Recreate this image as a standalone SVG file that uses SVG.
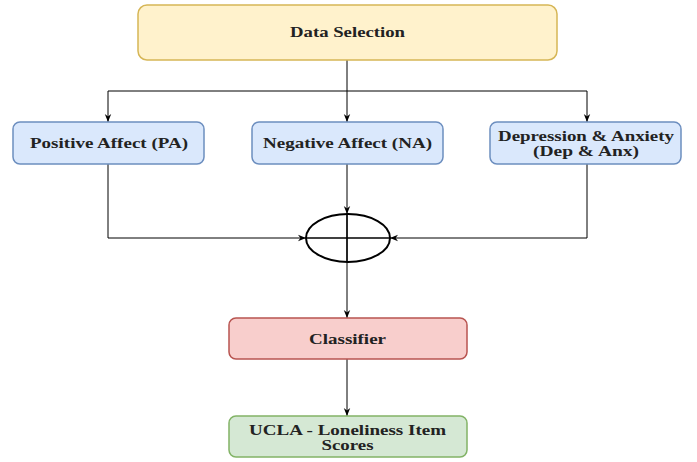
<svg xmlns="http://www.w3.org/2000/svg" width="697" height="462" viewBox="0 0 697 462">
<style>
.box{stroke-width:1.5}
.t{font-family:"Liberation Serif","Times New Roman",serif;font-weight:bold;font-size:14px;fill:#222;text-anchor:middle;dominant-baseline:middle}
.c{fill:none;stroke:#000;stroke-width:1}
</style>
<defs>
<marker id="ah" viewBox="0 0 10 10" refX="10" refY="5" markerWidth="8" markerHeight="8" orient="auto" markerUnits="userSpaceOnUse">
<path d="M0,1 L10,5 L0,9 L3,5 Z" fill="#000"/>
</marker>
</defs>
<rect width="697" height="462" fill="#fff"/>
<g id="sum">
<ellipse cx="348" cy="238" rx="42" ry="24" fill="none" stroke="#000" stroke-width="2"/>
<line x1="306" y1="238" x2="390" y2="238" stroke="#000" stroke-width="1.4"/>
<line x1="347" y1="214" x2="347" y2="262" stroke="#000" stroke-width="1.4"/>
</g>
<g id="connectors">
<path class="c" d="M347,60 V122" marker-end="url(#ah)"/>
<path class="c" d="M347,91 H108 V122" marker-end="url(#ah)"/>
<path class="c" d="M347,91 H587 V122" marker-end="url(#ah)"/>
<path class="c" d="M108,164 V238 H306" marker-end="url(#ah)"/>
<path class="c" d="M587,164 V238 H390" marker-end="url(#ah)"/>
<path class="c" d="M347,164 V214" marker-end="url(#ah)"/>
<path class="c" d="M347,214 V318" marker-end="url(#ah)"/>
<path class="c" d="M347,359 V416" marker-end="url(#ah)"/>
</g>
<g id="data-selection">
<rect class="box" x="138" y="5" width="419" height="55" rx="9" fill="#fff2cc" stroke="#d6b656"/>
<text class="t" x="347.5" y="33.5" textLength="115" lengthAdjust="spacingAndGlyphs">Data Selection</text>
</g>
<g id="positive-affect">
<rect class="box" x="13" y="122" width="191" height="42" rx="7" fill="#dae8fc" stroke="#6c8ebf"/>
<text class="t" x="109" y="145" textLength="158" lengthAdjust="spacingAndGlyphs">Positive Affect (PA)</text>
</g>
<g id="negative-affect">
<rect class="box" x="252" y="122" width="191" height="42" rx="7" fill="#dae8fc" stroke="#6c8ebf"/>
<text class="t" x="347.5" y="145" textLength="169" lengthAdjust="spacingAndGlyphs">Negative Affect (NA)</text>
</g>
<g id="dep-anx">
<rect class="box" x="490" y="122" width="191" height="42" rx="7" fill="#dae8fc" stroke="#6c8ebf"/>
<text class="t" x="586" y="138" textLength="176" lengthAdjust="spacingAndGlyphs">Depression &amp; Anxiety</text>
<text class="t" x="586" y="153" textLength="106" lengthAdjust="spacingAndGlyphs">(Dep &amp; Anx)</text>
</g>
<g id="classifier">
<rect class="box" x="229" y="318" width="238" height="41" rx="7" fill="#f8cecc" stroke="#b85450"/>
<text class="t" x="347.5" y="340.5" textLength="77" lengthAdjust="spacingAndGlyphs">Classifier</text>
</g>
<g id="ucla">
<rect class="box" x="229" y="416" width="238" height="41" rx="7" fill="#d5e8d4" stroke="#82b366"/>
<text class="t" x="347.5" y="432" textLength="197" lengthAdjust="spacingAndGlyphs">UCLA - Loneliness Item</text>
<text class="t" x="347.5" y="447" textLength="52" lengthAdjust="spacingAndGlyphs">Scores</text>
</g>
</svg>
